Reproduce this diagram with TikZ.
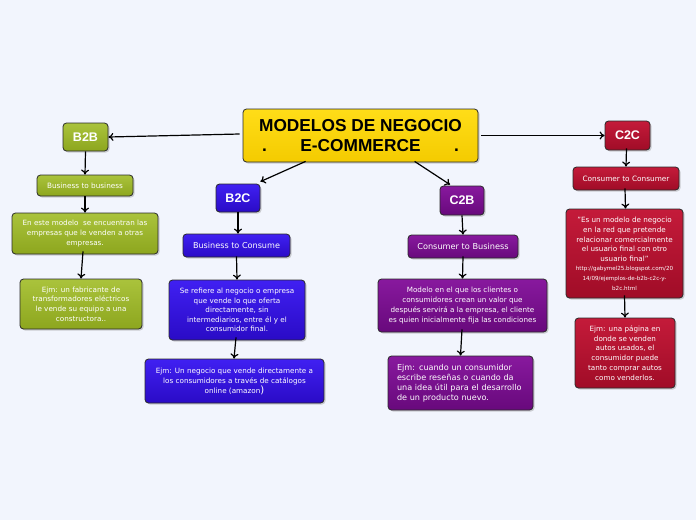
\documentclass[tikz,border=0pt]{standalone}
\usepackage{fontspec}
\setmainfont{DejaVu Sans}
\newfontfamily\arialf{Liberation Sans}
\usetikzlibrary{arrows.meta,shadows,calc}
\definecolor{bgc}{HTML}{F2F5FD}
\definecolor{grT}{HTML}{AAC33C}\definecolor{grB}{HTML}{8DA61E}
\definecolor{blT}{HTML}{4020F2}\definecolor{blB}{HTML}{2A0BC6}
\definecolor{puT}{HTML}{88199E}\definecolor{puB}{HTML}{68097C}
\definecolor{reT}{HTML}{C41B3A}\definecolor{reB}{HTML}{A00C27}
\definecolor{yeT}{HTML}{FFDD18}\definecolor{yeB}{HTML}{F4CB00}
\definecolor{edgec}{HTML}{2A2A2A}
\newcommand{\fsz}[2]{\fontsize{#1}{#2}\selectfont}
\tikzset{
  box/.style={draw=edgec, line width=0.8pt, rounded corners=3.5pt, inner sep=0pt,
    text=white, align=center,
    drop shadow={shadow xshift=1.5pt, shadow yshift=-1.5pt, opacity=0.35}},
  gbox/.style={box, top color=grT, bottom color=grB},
  bbox/.style={box, top color=blT, bottom color=blB},
  pbox/.style={box, top color=puT, bottom color=puB},
  rbox/.style={box, top color=reT, bottom color=reB},
  head/.style={font=\arialf\bfseries\fsz{12.5}{14}},
  conn/.style={line width=1.2pt, draw=black, -{To[length=5pt,width=8pt]}},
}
\begin{document}
\begin{tikzpicture}[x=1pt,y=-1pt]
\fill[bgc] (0,0) rectangle (696,520);
\useasboundingbox (0,0) rectangle (696,520);

% title
\node[box, top color=yeT, bottom color=yeB, text=black, minimum width=235pt, minimum height=53pt,
  font=\arialf\bfseries\fsz{17.3}{19.5}] (title) at (360.5,135.5)
  {MODELOS DE NEGOCIO\\\makebox[197pt]{.\hfill E-COMMERCE\hfill .}};

% B2B column
\node[gbox, head, minimum width=45pt, minimum height=28pt] (b2b) at (85.5,137) {B2B};
\node[gbox, minimum width=96pt, minimum height=21pt, font=\fsz{7.3}{9}] (b2b1) at (85,185.5) {Business to business};
\node[gbox, minimum width=146pt, minimum height=41pt, font=\fsz{7.2}{10}] (b2b2) at (85,233.5)
  {En este modelo \ se encuentran las\\empresas que le venden a otras\\empresas.};
\node[gbox, minimum width=122pt, minimum height=50pt, font=\fsz{7.2}{9.6}] (b2b3) at (81,304)
  {Ejm: un fabricante de\\transformadores eléctricos\\le vende su equipo a una\\constructora..};

% B2C column
\node[bbox, head, minimum width=44pt, minimum height=28pt] (b2c) at (238,198) {B2C};
\node[bbox, minimum width=107pt, minimum height=23pt, font=\fsz{8.1}{9}] (b2c1) at (236.5,245.5) {Business to Consume};
\node[bbox, minimum width=136pt, minimum height=60pt, font=\fsz{7.2}{9.6}] (b2c2) at (237,310)
  {Se refiere al negocio o empresa\\que vende lo que oferta\\directamente, sin\\intermediarios, entre él y el\\consumidor final.};
\node[bbox, minimum width=179pt, minimum height=44pt, font=\fsz{7.2}{10}] (b2c3) at (234.5,381)
  {Ejm: Un negocio que vende directamente a\\los consumidores a través de catálogos\\online (amazon{\fsz{10}{10})}};

% C2B column
\node[pbox, head, minimum width=44pt, minimum height=29pt] (c2b) at (462,200.5) {C2B};
\node[pbox, minimum width=110pt, minimum height=23pt, font=\fsz{8.2}{9}] (c2b1) at (463,246.5) {Consumer to Business};
\node[pbox, minimum width=169pt, minimum height=53pt, font=\fsz{7.2}{10}] (c2b2) at (462.5,305.5)
  {Modelo en el que los clientes o\\consumidores crean un valor que\\después servirá a la empresa, el cliente\\es quien inicialmente fija las condiciones};
\node[pbox, minimum width=145pt, minimum height=54pt, text width=127pt, align=left, font=\fsz{8.1}{10}] (c2b3) at (460.5,383)
  {Ejm: cuando un consumidor\\escribe reseñas o cuando da\\una idea útil para el desarrollo\\de un producto nuevo.};

% C2C column
\node[rbox, head, minimum width=45pt, minimum height=29pt] (c2c) at (627.5,135.5) {C2C};
\node[rbox, minimum width=106pt, minimum height=23pt, font=\fsz{7.35}{9}] (c2c1) at (626,178.5) {Consumer to Consumer};
\node[rbox, minimum width=117pt, minimum height=89pt, font=\fsz{7.2}{9.8}] (c2c2) at (624.5,253.5)
  {"Es un modelo de negocio\\en la red que pretende\\relacionar comercialmente\\el usuario final con otro\\usuario final"\\[-1pt]
   \fsz{5.6}{8.2}http://gabymel25.blogspot.com/20\\\fsz{5.6}{8.2}14/09/ejemplos-de-b2b-c2c-y-\\\fsz{5.6}{8.2}b2c.html};
\node[rbox, minimum width=100pt, minimum height=70pt, font=\fsz{7.2}{9.8}] (c2c3) at (625,353)
  {Ejm: una página en\\donde se venden\\autos usados, el\\consumidor puede\\tanto comprar autos\\como venderlos.};

% connectors
\draw[conn] ([xshift=-3pt,yshift=1.5pt]title.west) -- (b2b.east);
\draw[conn] ([xshift=3pt]title.east) -- (c2c.west);
\draw[conn] ([xshift=63pt,yshift=1pt]title.south west) -- ([yshift=2pt]b2c.north east);
\draw[conn] ([xshift=172pt,yshift=1pt]title.south west) -- ([xshift=-12pt,yshift=1pt]c2b.north);

\draw[conn] (b2b.south) -- (b2b1.north);
\draw[conn] (b2b1.south) -- (b2b2.north);
\draw[conn] ([xshift=-2pt,yshift=3pt]b2b2.south) -- (b2b3.north);

\draw[conn] (b2c.south) -- ([xshift=1.5pt]b2c1.north);
\draw[conn] ([yshift=1pt]b2c1.south) -- (b2c2.north);
\draw[conn] ([xshift=-1pt,yshift=3pt]b2c2.south) -- ([xshift=-0.5pt]b2c3.north);

\draw[conn] (c2b.south) -- (c2b1.north);
\draw[conn] ([yshift=2pt]c2b1.south) -- (c2b2.north);
\draw[conn] ([xshift=-0.5pt,yshift=3pt]c2b2.south) -- (c2b3.north);

\draw[conn] ([xshift=-1pt,yshift=2pt]c2c.south) -- (c2c1.north);
\draw[conn] ([xshift=-1pt,yshift=2pt]c2c1.south) -- ([xshift=1pt]c2c2.north);
\draw[conn] ([yshift=3pt]c2c2.south) -- (c2c3.north);
\end{tikzpicture}
\end{document}
